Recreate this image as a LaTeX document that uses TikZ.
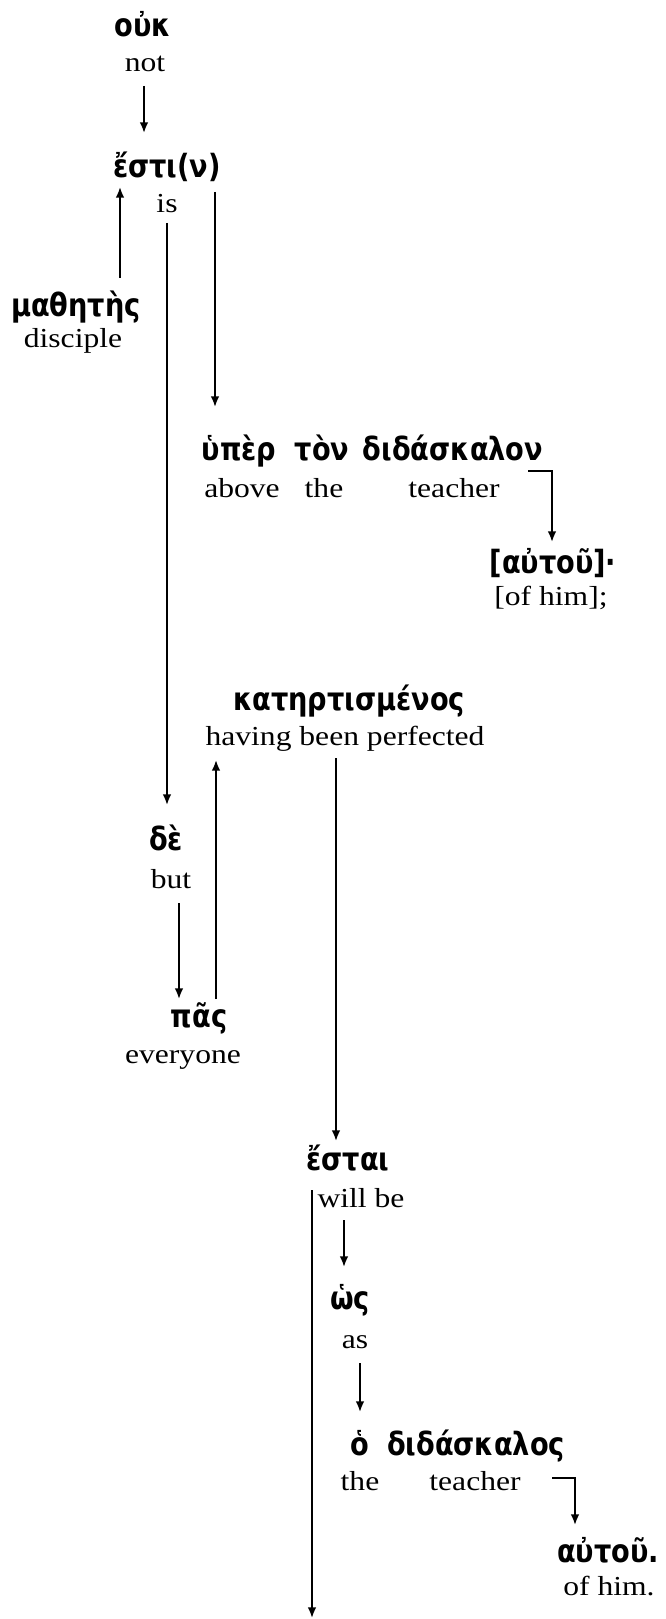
\documentclass[tikz,border=0pt]{standalone}
\usepackage{fontspec}
\setmainfont{Liberation Serif}[FakeStretch=1.15]
\newfontfamily\gk{DejaVu Sans Bold}[FakeStretch=0.85]
\usetikzlibrary{calc,arrows.meta}
\begin{document}
\begin{tikzpicture}[x=0.75pt,y=-0.75pt,
  gr/.style={font=\gk\fontsize{24}{28}\selectfont, inner sep=0pt, anchor=base},
  en/.style={font=\fontsize{20.6}{24}\selectfont, inner sep=0pt, anchor=base},
  arr/.style={line width=1.4pt, -{Latex[length=8pt,width=6.5pt]}}]
\useasboundingbox (0,0) rectangle (666,1619);
% words
\node[gr] (ouk) at (143,37) {οὐκ};
\node[en] (not) at (145,72) {not};
\node[gr] (esti) at (167,178) {ἔστι(ν)};
\node[en] (is) at (167,213) {is};
\node[gr] (math) at (76,317) {μαθητὴς};
\node[en] (disc) at (73,347) {disciple};
\node[gr] (hyper) at (239,460) {ὑπὲρ};
\node[gr] (ton) at (322,460) {τὸν};
\node[gr] (didon) at (453,460) {διδάσκαλον};
\node[en] (above) at (242,497) {above};
\node[en] (the1) at (324,497) {the};
\node[en] (teach1) at (454,497) {teacher};
\node[gr] (aut1) at (553,573) {[αὐτοῦ]·};
\node[en] (ofhim1) at (551,605) {[of him];};
\node[gr] (kat) at (349,710) {κατηρτισμένος};
\node[en] (hbp) at (345,745) {having been perfected};
\node[gr] (de) at (166,850) {δὲ};
\node[en] (but) at (171,888) {but};
\node[gr] (pas) at (199,1027) {πᾶς};
\node[en] (every) at (183,1063) {everyone};
\node[gr] (estai) at (348,1170) {ἔσται};
\node[en] (willbe) at (361,1207) {will be};
\node[gr] (hos) at (350,1309) {ὡς};
\node[en] (as) at (355,1348) {as};
\node[gr] (ho) at (360,1455) {ὁ};
\node[gr] (didos) at (476,1455) {διδάσκαλος};
\node[en] (the2) at (360,1490) {the};
\node[en] (teach2) at (475,1490) {teacher};
\node[gr] (aut2) at (608,1562) {αὐτοῦ.};
\node[en] (ofhim2) at (609,1595) {of him.};
\coordinate (bottom) at (312,1618);
% connectors
\draw[arr] ($(not.base)+(-1,14)$) -- ($(esti.base)+(-23,-45)$);
\draw[arr] ($(math.base)+(44,-39)$) -- ($(esti.base)+(-47,9)$);
\draw[arr] ($(esti.base)+(48,14)$) -- ($(hyper.base)+(-24,-53)$);
\draw[arr] ($(is.base)+(0,10)$) -- ($(de.base)+(1,-45)$);
\draw[arr] ($(didon.base)+(75,11)$) -| ($(aut1.base)+(-1,-31)$);
\draw[arr] ($(but.base)+(8,15)$) -- ($(pas.base)+(-20,-28)$);
\draw[arr] ($(pas.base)+(17,-28)$) -- ($(hbp.base)+(-129,15)$);
\draw[arr] ($(hbp.base)+(-9,13)$) -- ($(estai.base)+(-12,-29)$);
\draw[arr] ($(willbe.base)+(-49,-17)$) -- (bottom);
\draw[arr] ($(willbe.base)+(-17,13)$) -- ($(hos.base)+(-6,-42)$);
\draw[arr] ($(as.base)+(5,15)$) -- ($(ho.base)+(0,-43)$);
\draw[arr] ($(teach2.base)+(77,-12)$) -| ($(aut2.base)+(-33,-37)$);
\end{tikzpicture}
\end{document}
